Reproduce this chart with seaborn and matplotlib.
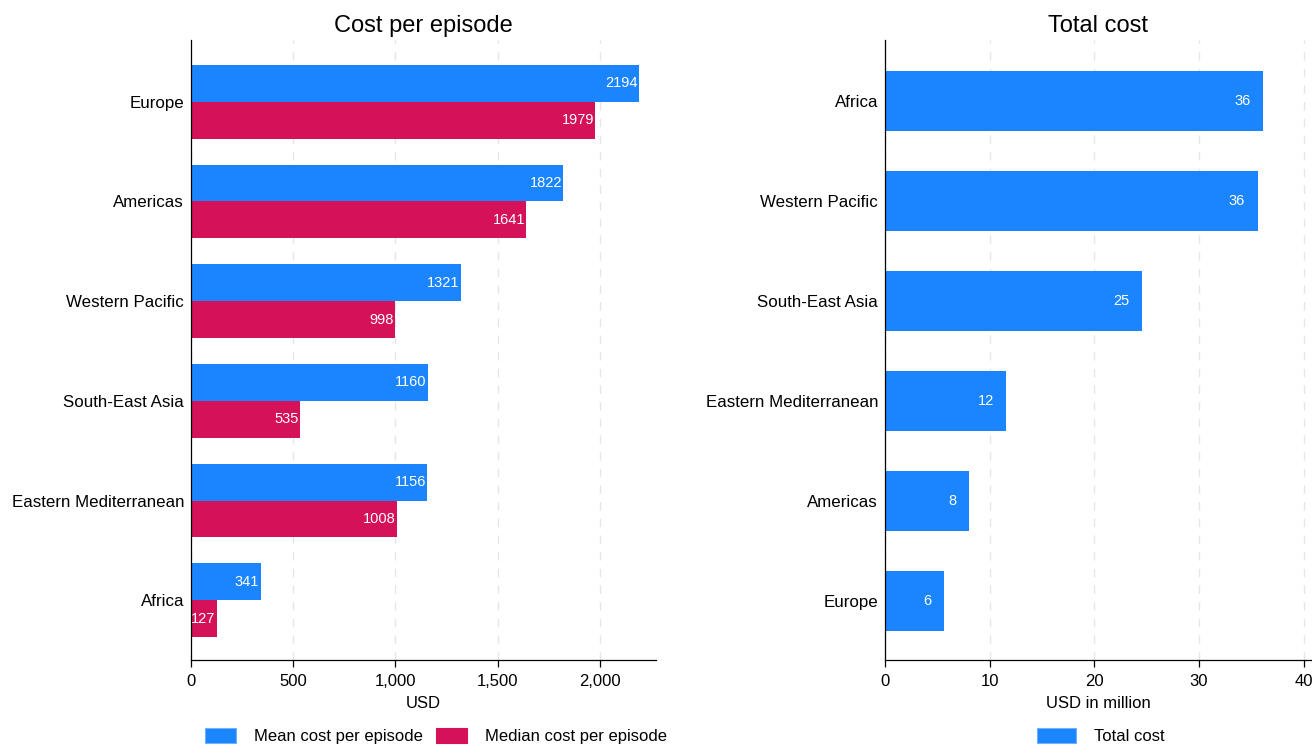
import numpy as np
import pandas as pd
import matplotlib
matplotlib.use("Agg")
import matplotlib.pyplot as plt
from matplotlib.patches import Patch
import seaborn as sns

# ---- data ----
regions_left = ["Europe", "Americas", "Western Pacific", "South-East Asia",
                "Eastern Mediterranean", "Africa"]
mean_cost = [2194, 1822, 1321, 1160, 1156, 341]
median_cost = [1979, 1641, 998, 535, 1008, 127]

regions_right = ["Africa", "Western Pacific", "South-East Asia",
                 "Eastern Mediterranean", "Americas", "Europe"]
total_cost = [36.1, 35.6, 24.6, 11.6, 8.0, 5.6]

series_names = ["Mean cost per episode", "Median cost per episode"]
left_ticks = [0, 500, 1000, 1500, 2000]
left_ticklabels = ["0", "500", "1,000", "1,500", "2,000"]
right_ticks = [0, 10, 20, 30, 40]

BLUE = "#1A85FF"
RED = "#D41159"

sns.set_theme(style="white")
plt.rcParams["font.family"] = ["Liberation Sans", "DejaVu Sans"]

fig = plt.figure(figsize=(13.12, 7.46), dpi=100)
axL = fig.add_axes([191/1312, 1-660/746, (656-191)/1312, (660-40)/746])
axR = fig.add_axes([885/1312, 1-660/746, (1312-885)/1312, (660-40)/746])

dfL = pd.DataFrame({
    "region": regions_left * 2,
    "value": mean_cost + median_cost,
    "series": [series_names[0]] * 6 + [series_names[1]] * 6,
})
sns.barplot(data=dfL, y="region", x="value", hue="series", order=regions_left,
            hue_order=series_names, palette=[BLUE, RED], orient="h",
            width=0.74, ax=axL, legend=False, edgecolor=None, linewidth=0,
            saturation=1)

dfR = pd.DataFrame({"region": regions_right, "value": total_cost})
sns.barplot(data=dfR, y="region", x="value", order=regions_right, color=BLUE,
            orient="h", width=0.6, ax=axR, edgecolor=None, linewidth=0,
            saturation=1)

for c in axL.containers:
    axL.bar_label(c, fmt="%.0f", padding=-1, color="white", fontsize=10.5)
for c in axR.containers:
    axR.bar_label(c, fmt="%.0f", padding=-9, color="white", fontsize=10.5)

for ax in (axL, axR):
    for t in ax.texts:
        t.set_horizontalalignment("right")
    sns.despine(ax=ax, top=True, right=True)
    ax.spines["left"].set_color("black")
    ax.spines["bottom"].set_color("black")
    ax.spines["left"].set_linewidth(0.9)
    ax.spines["bottom"].set_linewidth(0.9)
    ax.tick_params(axis="x", which="major", bottom=True, length=5, width=0.9,
                   color="black", labelsize=12, pad=5, labelcolor="black")
    ax.tick_params(axis="y", left=False, length=0, labelsize=12.2, pad=5,
                   labelcolor="black")
    ax.set_ylabel("")
    ax.grid(axis="x", color="#E6E6E6", linestyle=(0, (6, 6)), linewidth=1.0)
    ax.set_axisbelow(True)

axL.set_ylim(5.6, -0.62)
axR.set_ylim(5.59, -0.61)

axL.set_xlim(0, 2275)
axL.set_xticks(left_ticks)
axL.set_xticklabels(left_ticklabels)
axL.set_xlabel("USD", fontsize=12, color="black", labelpad=5)
axL.set_title("Cost per episode", fontsize=17, color="black", pad=6)

axR.set_xlim(0, 40.8)
axR.set_xticks(right_ticks)
axR.set_xlabel("USD in million", fontsize=12, color="black", labelpad=5)
axR.set_title("Total cost", fontsize=17, color="black", pad=6)

handlesL = [Patch(facecolor=BLUE, edgecolor="#6FB2FF", linewidth=0.8),
            Patch(facecolor=RED, edgecolor=RED, linewidth=0.8)]
fig.legend(handlesL, series_names, loc="center", bbox_to_anchor=(436/1312, 1-736/746),
           ncol=2, frameon=False, fontsize=12, handlelength=1.85, handleheight=1.0,
           columnspacing=0.8, handletextpad=1.1, labelcolor="black")
fig.legend([Patch(facecolor=BLUE, edgecolor="#6FB2FF", linewidth=0.8)], ["Total cost"],
           loc="center", bbox_to_anchor=(1101/1312, 1-736/746), frameon=False,
           fontsize=12, handlelength=2.3, handleheight=1.0, handletextpad=1.1,
           labelcolor="black")

fig.savefig("out.png", dpi=100)
